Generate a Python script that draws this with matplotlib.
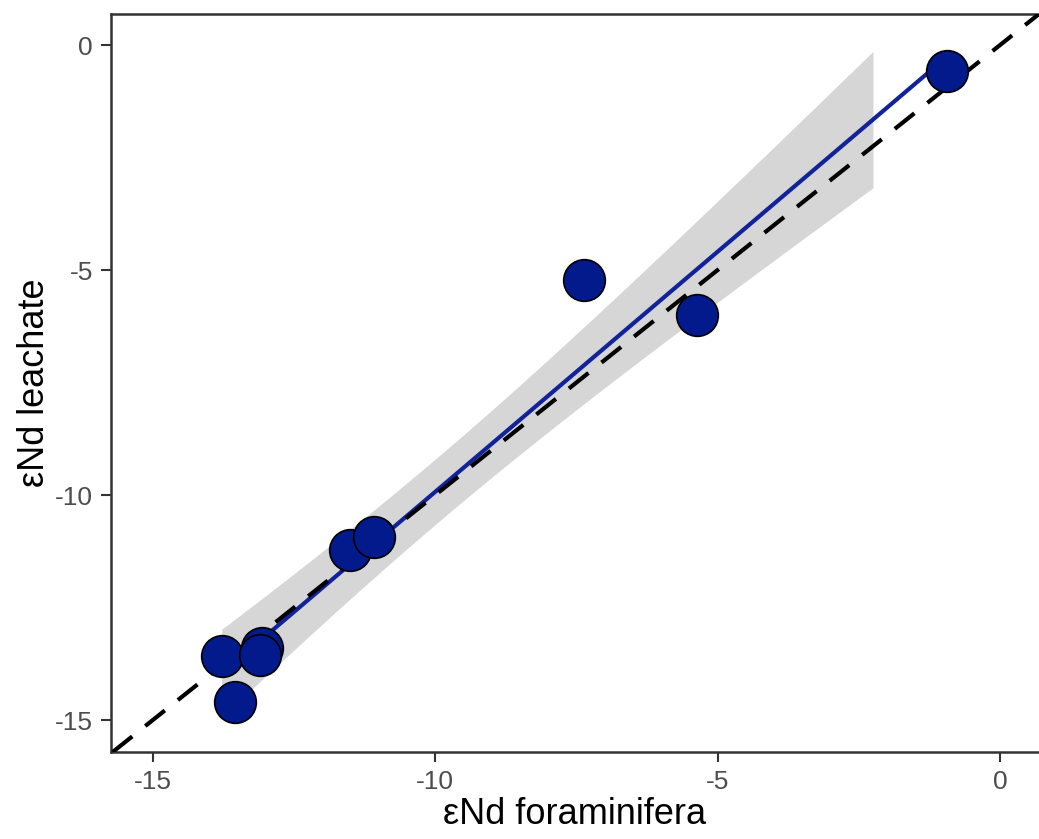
import numpy as np
import matplotlib.pyplot as plt

plt.rcParams['font.family'] = ['Liberation Sans', 'DejaVu Sans']
plt.rcParams['axes.unicode_minus'] = False

# eNd values: foraminifera (x) vs leachate (y)
end_forams = [-0.93, -7.36, -5.36, -11.50, -11.09, -13.78, -13.07, -13.10, -13.54]
end_leachate = [-0.57, -5.21, -6.00, -11.22, -10.94, -13.58, -13.40, -13.56, -14.59]
ribbon_end = -2.25  # the confidence band stops short of the last point

x = np.array(end_forams)
y = np.array(end_leachate)

# ordinary least squares with a 95% confidence band
n = len(x)
slope, intercept = np.polyfit(x, y, 1)
resid = y - (intercept + slope * x)
s = np.sqrt(np.sum(resid**2) / (n - 2))
t975 = 2.3646  # t quantile, 7 degrees of freedom
sxx = np.sum((x - x.mean())**2)

xf = np.linspace(x.min(), x.max(), 100)
xr = np.linspace(x.min(), ribbon_end, 100)
yr = intercept + slope * xr
half = t975 * s * np.sqrt(1 / n + (xr - x.mean())**2 / sxx)

fig = plt.figure(figsize=(10.39, 8.39), dpi=100)
ax = fig.add_axes([111 / 1039, 87 / 839, 928 / 1039, 738 / 839])

ax.fill_between(xr, yr - half, yr + half, color='#d6d6d6', lw=0, zorder=1)
ax.plot(xf, intercept + slope * xf, color='#12239a', lw=3, zorder=2)
ax.axline((0, 0), slope=1, color='black', lw=3, ls=(0, (6, 4)), zorder=3)
ax.scatter(x, y, s=900, color='#031a8c', edgecolors='black', linewidths=1.2, zorder=4)

ax.set_xlim(-15.74, 0.69)
ax.set_ylim(-15.71, 0.69)
ax.set_xticks([-15, -10, -5, 0])
ax.set_yticks([-15, -10, -5, 0])

for side in ['left', 'bottom', 'top']:
    ax.spines[side].set_color('#333333')
    ax.spines[side].set_linewidth(1.8)
ax.spines['right'].set_visible(False)

ax.tick_params(axis='both', direction='out', length=7, width=1.5, color='#333333',
               labelsize=19, labelcolor='#4d4d4d', pad=6)

ax.set_xlabel('εNd foraminifera', fontsize=26, color='black', labelpad=2)
ax.set_ylabel('εNd leachate', fontsize=26, color='black', labelpad=2)

fig.savefig('out.png', dpi=100)
